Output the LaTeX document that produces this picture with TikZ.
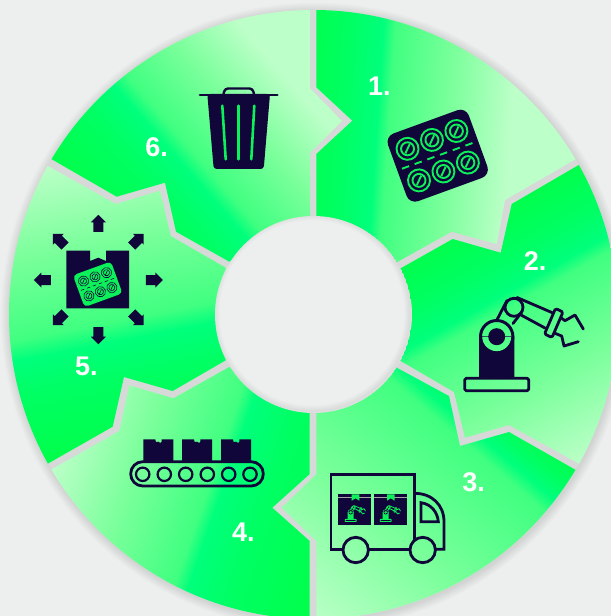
\documentclass[tikz,border=0pt]{standalone}
\usepackage{fontspec}
\setmainfont{Liberation Sans}
\definecolor{bgc}{HTML}{EDEFEE}
\definecolor{gapc}{HTML}{D6D9D8}
\definecolor{navy}{HTML}{10063A}
\definecolor{icong}{HTML}{0CF15A}
\definecolor{gA}{HTML}{00FF48}
\definecolor{gAB}{HTML}{00FF62}
\definecolor{gB}{HTML}{00FF7C}
\definecolor{gC}{HTML}{40FF80}
\definecolor{gM}{HTML}{7CFF9C}
\definecolor{gD}{HTML}{BCFFC8}
\pgfdeclarehorizontalshading{sgA}{2400bp}{color(0bp)=(gA); color(50bp)=(gAB); color(84bp)=(gB); color(96bp)=(gC); color(157bp)=(gM); color(218bp)=(gD); color(340bp)=(gD)}
\pgfdeclarehorizontalshading{sgB}{2400bp}{color(0bp)=(gA); color(52bp)=(gAB); color(84bp)=(gB); color(98bp)=(gC); color(184bp)=(gM); color(270bp)=(gD); color(300bp)=(gD)}
\pgfdeclarehorizontalshading{sgC}{2400bp}{color(0bp)=(gA); color(28bp)=(gAB); color(45bp)=(gB); color(60bp)=(gC); color(178bp)=(gM); color(295bp)=(gD); color(325bp)=(gD)}
\pgfdeclarehorizontalshading{sgD}{2400bp}{color(0bp)=(gA); color(85bp)=(gAB); color(130bp)=(gB); color(144bp)=(gC); color(221bp)=(gM); color(298bp)=(gD); color(350bp)=(gD)}
\pgfdeclarehorizontalshading{sgE}{2400bp}{color(0bp)=(gA); color(75bp)=(gAB); color(112bp)=(gB); color(132bp)=(gC); color(215bp)=(gM); color(298bp)=(gD); color(350bp)=(gD)}
\pgfdeclarehorizontalshading{sgF}{2400bp}{color(0bp)=(gA); color(65bp)=(gAB); color(100bp)=(gB); color(116bp)=(gC); color(176bp)=(gM); color(235bp)=(gD); color(310bp)=(gD)}
\tikzset{
  shadenode/.style={inner sep=0pt,outer sep=0pt,anchor=west},
  numlabel/.style={text=white,inner sep=0pt,font=\fontsize{27bp}{30bp}\selectfont\bfseries},
  iconline/.style={navy,line width=2.8bp,line cap=round,line join=round},
}
\newcommand{\ringseg}[4]{%
  \begin{scope}
    \clip (313.5,314.5) circle[radius=304.5];
    \clip #1 -- cycle;
    \node[shadenode,rotate=#3] (n#2) at (#4) {\pgfuseshading{#2}};
  \end{scope}}
% #1 centre, #2 scale, #3 fill, #4 stroke, #5 line width, #6 corner radius
\newcommand{\blisterpack}[6]{%
  \begin{scope}[shift={(#1)},rotate=20,scale=#2]
    \fill[#3,rounded corners=#6] (-43,-36) rectangle (43,36);
    \foreach \u in {-26,0,26} \foreach \v in {-16.8,16.8} {
      \draw[#4,line width=#5] (\u,\v) circle[radius=11];
      \draw[#4,line width=#5] (\u,\v) circle[radius=6.5];
      \draw[#4,line width=#5] (\u-3.6,\v+3.6) -- (\u+3.6,\v-3.6);
    }
    \foreach \u in {-38,-24.5,-11,2.5,16,29.5}
      \draw[#4,line width=#5] (\u,0) -- (\u+7.5,0);
  \end{scope}}
% #1 ring centre, #2 scale, #3 colour, #4 line width
\newcommand{\robotarm}[4]{%
  \begin{scope}[shift={(#1)},scale=#2,shift={(-496.7,-336.7)}]
    \begin{scope}
      \clip (479,336.7) rectangle (514.3,378.3);
      \fill[#3,even odd rule] (479,336.7) rectangle (514.3,378.3) (496.7,336.7) circle[radius=14.7];
    \end{scope}
    \fill[#3,even odd rule] (496.7,336.7) circle[radius=17.7] (496.7,336.7) circle[radius=14.7] (496.7,336.7) circle[radius=8.5];
    \draw[#3,line width=#4,line join=round,rounded corners=1.5*#2] (464.7,378.3) rectangle (528.7,390.7);
    \draw[#3,line width=#4] (514,307.3) circle[radius=9];
    \draw[#3,line width=#4,line cap=round] (496.5,320.7) -- (507,300.5);
    \draw[#3,line width=#4,line cap=round] (513,323.5) -- (521.5,312.5);
    \draw[#3,line width=#4,line cap=round] (517,297.5) -- (553,313);
    \draw[#3,line width=#4,line cap=round] (521,315) -- (545,328);
    \draw[#3,line width=#4,line join=round,rounded corners=1.5*#2] (555.5,308.5) -- (563,312) -- (552,337.5) -- (544.5,334) -- cycle;
    \draw[#3,line width=#4,line cap=round,line join=round] (561.7,318.3) -- (565,320.7) -- (575,315) -- (583.3,329);
    \draw[#3,line width=#4,line cap=round,line join=round] (555,333.3) -- (561.7,336) -- (564,346) -- (578.3,341.7);
  \end{scope}}
% #1 centre, #2 rotation
\newcommand{\outarrow}[2]{%
  \fill[navy,shift={(#1)},rotate=#2] (-8.5,-5) -- (1,-5) -- (1,-7.5) -- (8.5,0) -- (1,7.5) -- (1,5) -- (-8.5,5) -- cycle;}
\newcommand{\cartonbox}[1]{%
  \fill[navy,shift={(#1,0)}] (0,439.3) -- (12,439.3) -- (12.6,442) -- (15,441.7) -- (17.2,443) -- (18.4,441.5) -- (18.4,439.3) -- (30,439.3) -- (30,462) -- (0,462) -- cycle;}
\newcommand{\truckcarton}[1]{%
  \begin{scope}[shift={(#1,0)}]
    \fill[navy] (338.3,494.3) rectangle (371.3,525);
    \draw[gray!70,line width=.5bp] (338.3,497.4) -- (371.3,497.4);
    \fill[icong] (351.7,494.3) -- (359.3,494.3) -- (359.3,500.7) -- (355.5,498.3) -- (351.7,500.7) -- cycle;
  \end{scope}}
\begin{document}
\begin{tikzpicture}[x=1bp,y=-1bp]
\useasboundingbox (0,0) rectangle (611,616);
\fill[bgc] (0,0) rectangle (611,616);
% soft shadow of the ring
\foreach \k in {1,...,9}
  \fill[black,opacity=.010] (314.5,316) circle[radius=304.5+\k];
\fill[gapc] (313.5,314.5) circle[radius=304.5];
% segments
\ringseg{(316.3,-100) -- (316.3,87.3) -- (352.3,120.7) -- (316.3,154) -- (316.3,216) -- (396.7,262.3) -- (451.7,231.7) -- (496.7,244) -- (505,200) -- (574.3,160) -- (660,110) -- (700,-100)}{sgA}{-3.96}{299.4,20.7}
\ringseg{(644,127) -- (511.7,204) -- (500.7,252.7) -- (452.7,239) -- (400.7,268.3) -- (400.7,361) -- (454,392) -- (465,437.7) -- (509,425) -- (647.6,501.6) -- (720,501) -- (720,127)}{sgB}{-60.6}{205.8,365.4}
\ringseg{(639,506) -- (509,432) -- (460,446) -- (449,396) -- (396.7,367.7) -- (316.3,412.7) -- (316.3,474.3) -- (281.7,507.7) -- (316.3,541) -- (316.3,720) -- (639,720)}{sgC}{-130.5}{16.25,-19}
\ringseg{(309.7,720) -- (309.7,541) -- (272.3,507.7) -- (309.7,474) -- (309.7,413) -- (229.3,367) -- (173.3,398.3) -- (129.3,385.3) -- (119.3,431) -- (51.7,469.3) -- (-20,510) -- (-20,720)}{sgD}{160.9}{472.5,163.5}
\ringseg{(-16,500) -- (112.7,426.7) -- (124,377) -- (172.7,391) -- (225.7,360.3) -- (225.7,267.7) -- (170.7,236) -- (160,190.7) -- (115.7,204) -- (47.3,165.7) -- (-20,128) -- (-40,128) -- (-40,500)}{sgE}{100.97}{89.3,460.6}
\ringseg{(-13,122) -- (116.7,196.7) -- (165,182.7) -- (176,231.7) -- (229.3,261.7) -- (310,216) -- (310,152.7) -- (342,121) -- (310,88.3) -- (310,-100) -- (-13,-100)}{sgF}{40.95}{-52.9,45.9}
% centre hole with soft inner shadow
\begin{scope}
  \clip (313.5,314.5) circle[radius=98.5];
  \fill[bgc] (313.5,314.5) circle[radius=98.5];
  \foreach \k in {2,4,...,12}
    \draw[black,opacity=.010,line width=\k bp] (312,313) circle[radius=98.5];
\end{scope}
% 1 blister pack
\blisterpack{437.7,155.7}{1}{navy}{icong}{1.9bp}{9bp}
% 2 robot
\robotarm{496.7,336.7}{1}{navy}{2.8bp}
% 3 truck
\draw[iconline,line cap=butt,line join=miter] (343,549.3) -- (331,549.3) -- (331,474.3) -- (414.3,474.3) -- (414.3,540.5);
\draw[iconline,line cap=butt] (368.4,549.3) -- (410,549.3);
\draw[iconline,line cap=butt,line join=miter] (414.3,493.3) .. controls (432,493.3) and (444,505) .. (444,521.7) -- (444,549.3) -- (435.4,549.3);
\draw[iconline,line join=miter] (421,502.7) .. controls (431,504) and (437.5,512) .. (438.3,521.7) -- (421,521.7) -- cycle;
\draw[iconline] (355.7,550) circle[radius=12.7];
\draw[iconline] (422.7,550) circle[radius=12.7];
\truckcarton{0}
\truckcarton{35.3}
\robotarm{350.7,512.3}{.17}{icong}{.8bp}
\robotarm{385.7,512.3}{.17}{icong}{.8bp}
% 4 conveyor
\cartonbox{143.3}
\cartonbox{182}
\cartonbox{221}
\draw[iconline,rounded corners=12bp] (130.7,461.7) rectangle (263.3,486);
\foreach \cx in {142.7,164.3,185.7,207.3,228.7,250}
  \draw[navy,line width=2.2bp] (\cx,474.3) circle[radius=6.7];
% 5 box with arrows
\fill[navy] (66.3,250.7) -- (90,250.7) -- (90,261) -- (98.3,257.7) -- (106,261) -- (106,250.7) -- (129,250.7) -- (129,308.3) -- (66.3,308.3) -- cycle;
\blisterpack{97.7,284.3}{.47}{icong}{navy}{.6bp}{4bp}
\outarrow{98.3,223.3}{90}
\outarrow{154.3,280}{0}
\outarrow{98.3,335.7}{-90}
\outarrow{42.3,280}{180}
\outarrow{137.7,240}{45}
\outarrow{59,240}{135}
\outarrow{59,319}{-135}
\outarrow{137.7,319}{-45}
% 6 bin
\fill[navy,rounded corners=3bp] (207.3,94) -- (270,94) -- (263.7,169) -- (213.7,169) -- cycle;
\draw[iconline] (200,95) -- (277.3,95);
\draw[navy,line width=2.4bp,line join=round,rounded corners=3bp] (223.5,94) -- (225,88.5) -- (252.5,88.5) -- (254,94);
\draw[icong,line width=2.6bp,line cap=round] (222.3,105.7) -- (225.7,159.3);
\draw[icong,line width=2.6bp,line cap=round] (238.3,105.7) -- (238.3,159.3);
\draw[icong,line width=2.6bp,line cap=round] (254.3,105.7) -- (251.3,159.3);
% labels
\node[numlabel] (lA) at (379.3,86.7) {1.};
\node[numlabel] (lB) at (535,261) {2.};
\node[numlabel] (lC) at (473.7,482.7) {3.};
\node[numlabel] (lD) at (243.3,532) {4.};
\node[numlabel] (lE) at (86.3,366) {5.};
\node[numlabel] (lF) at (156.7,147.7) {6.};
\end{tikzpicture}
\end{document}
